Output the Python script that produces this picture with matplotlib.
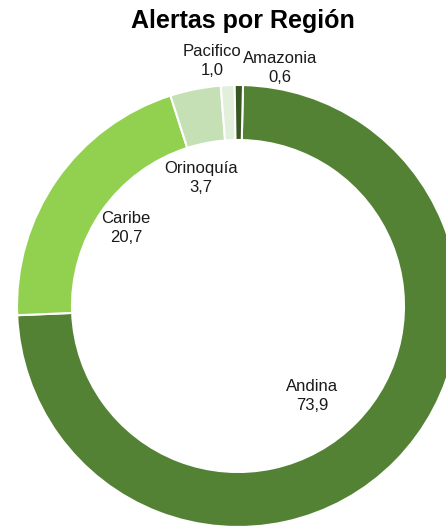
import matplotlib
matplotlib.use("Agg")
import matplotlib.pyplot as plt

plt.rcParams['font.family'] = ['Liberation Sans Narrow', 'Liberation Sans', 'DejaVu Sans']

regiones = ["Andina", "Caribe", "Orinoquía", "Pacifico", "Amazonia"]
valores = [73.9, 20.7, 3.7, 1.0, 0.6]
colores = ["#548235", "#92D050", "#C5E0B4", "#E2EFDA", "#385723"]
# label positions (pixel coords, y from top)
label_pos = [(312, 396), (126, 228), (201, 178), (212, 61), (280, 68)]

fig = plt.figure(figsize=(4.46, 5.27), dpi=100)
ax = fig.add_axes([0, 0, 1, 1])

cx, cy, R = 238, 306, 221
# y axis is inverted, so startangle 270 points up and counterclock draws clockwise
ax.pie(valores, colors=colores, startangle=271.3, counterclock=True,
       center=(cx, cy), radius=R, frame=True,
       wedgeprops=dict(width=55, edgecolor='white', linewidth=1.5))
ax.set_xlim(0, 446)
ax.set_ylim(527, 0)
ax.set_aspect('equal')
ax.axis('off')

for nombre, v, (x, y) in zip(regiones, valores, label_pos):
    ax.text(x, y, f"{nombre}\n{v:.1f}".replace(".", ","), ha='center', va='center',
            fontsize=12, linespacing=1.35, color='#1a1a1a')

ax.text(243, 21, "Alertas por Región", ha='center', va='center',
        fontsize=18, fontweight='bold', color='black')

fig.savefig("out.png", dpi=100)
